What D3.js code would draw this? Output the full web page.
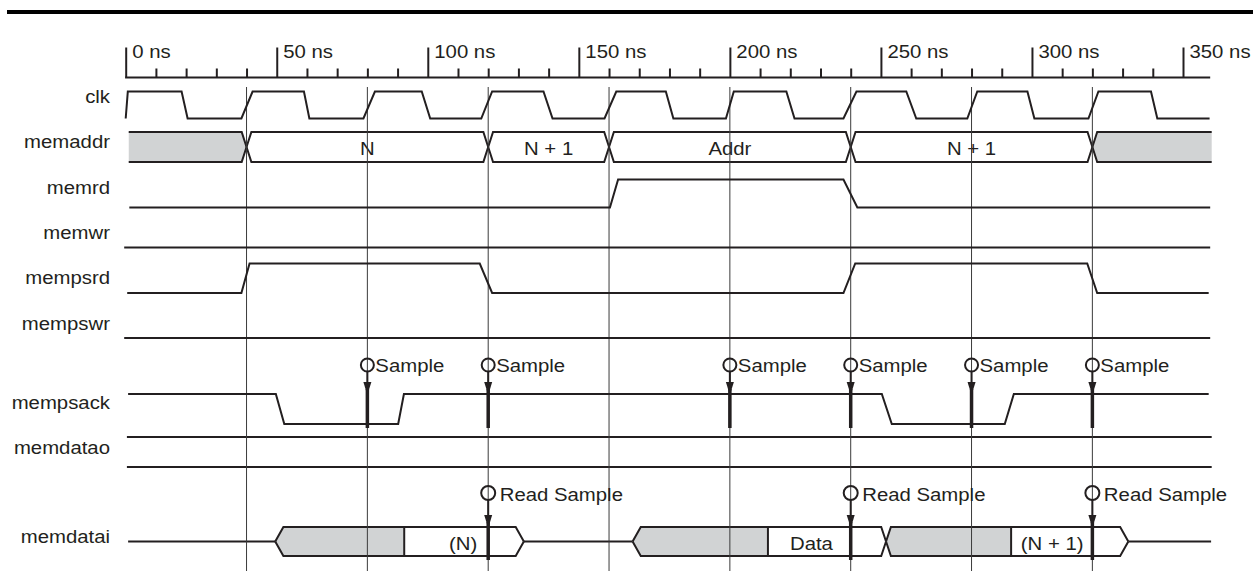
<!DOCTYPE html>
<html>
<head>
<meta charset="utf-8">
<script src="https://cdn.jsdelivr.net/npm/d3@7"></script>
<style>
body { margin: 0; background: #fff; }
text { font-family: "Liberation Sans", Arial, sans-serif; font-size: 18.5px; fill: #231f20; }
</style>
</head>
<body>
<svg id="chart"></svg>
<script>
// ---- data (times in ns) ----
var majorTicks = [0, 50, 100, 150, 200, 250, 300, 350];
var minorTicks = [10, 20, 30, 40, 60, 70, 80, 90, 110, 120, 130, 140, 160, 170, 180, 190,
                  210, 220, 230, 240, 260, 270, 280, 290, 310, 320, 330, 340];
var gridTimes = [40, 80, 120, 160, 200, 240, 280, 320];

// single-bit signals: [time, level]
var clk = [[0,0],[0.7,1],[18.5,1],[20.5,0],[38.3,0],[42,1],[59,1],[60.8,0],[78.7,0],[82.5,1],
           [98,1],[100.8,0],[117.7,0],[121.3,1],[138.3,1],[141.3,0],[158.5,0],[162.4,1],
           [178.8,1],[181.3,0],[198.7,0],[201.3,1],[218.7,1],[221.4,0],[237.6,0],[241.9,1],
           [258.4,1],[261.7,0],[278.6,0],[281.9,1],[298.5,1],[300.8,0],[318.7,0],[322,1],
           [339.4,1],[341.5,0],[358.8,0]];
var memrd = [[1.2,0],[160.3,0],[163,1],[237.6,1],[242.2,0],[359,0]];
var memwr = [[-0.5,0],[359,0]];
var mempsrd = [[0.5,0],[38.3,0],[41,1],[117.2,1],[121.3,0],[237.6,0],[241.5,1],[318.3,1],[321.6,0],[358.5,0]];
var mempswr = [[-0.5,0],[359,0]];
var mempsack = [[0.8,1],[49.7,1],[52.5,0],[90.2,0],[92.1,1],[250.3,1],[253.6,0],[291,0],[294,1],[358.5,1]];

// buses: [start, end, label]  (null label = unknown)
var memaddr = [[1, 40, null], [40, 120, "N"], [120, 160, "N + 1"], [160, 240, "Addr"],
               [240, 320, "N + 1"], [320, 359.5, null]];
var memdatao = [[0.4, 359.5, ""]];
// memdatai: [start, validFrom, end, label, labelAt]; Z elsewhere
var memdatai = [[49.5, 92.2, 131.8, "(N)", 111.7],
                [167.8, 212.6, 251.7, "Data", 227],
                [251.7, 293.1, 331.9, "(N + 1)", 306.7]];
var memdataiSpan = [0.8, 359.3];

var sampleTimes = [80, 120, 200, 240, 280, 320];
var readSampleTimes = [120, 240, 320];

var signalNames = ["clk", "memaddr", "memrd", "memwr", "mempsrd", "mempswr", "mempsack", "memdatao", "memdatai"];

// ---- layout ----
var W = 1253, H = 571;
var ink = "#231f20", grey = "#d1d3d4";
var rows = {
  clk:      {hi: 91.5, lo: 118.5, text: 103},
  memaddr:  {hi: 132,  lo: 162,   text: 148},
  memrd:    {hi: 179.5,lo: 207.5, text: 194},
  memwr:    {hi: 219,  lo: 247.5, text: 239},
  mempsrd:  {hi: 263.5,lo: 293,   text: 284},
  mempswr:  {hi: 309,  lo: 338,   text: 330},
  mempsack: {hi: 394,  lo: 424,   text: 409},
  memdatao: {hi: 437,  lo: 467,   text: 454},
  memdatai: {hi: 527,  lo: 556,   text: 543}
};
var rulerY = 77.5;
var busHalf = 1.6, zHalf = 2.7;

var x = d3.scaleLinear().domain([0, 350]).range([125.7, 1183]);
function yOf(name) { return d3.scaleLinear().domain([0, 1]).range([rows[name].lo, rows[name].hi]); }

var svg = d3.select("#chart").attr("width", W).attr("height", H);

function addText(parent, px, py, str, anchor) {
  parent.append("g")
    .attr("transform", "translate(" + px + "," + py + ") scale(1.1,1)")
    .append("text")
    .attr("text-anchor", anchor || "start")
    .text(str);
}

// top rule
svg.append("line").attr("x1", 7).attr("x2", W).attr("y1", 12).attr("y2", 12)
  .attr("stroke", "#000").attr("stroke-width", 4);

// ruler
var ruler = svg.append("g").attr("transform", "translate(0," + rulerY + ")");
ruler.append("line").attr("x1", x(-0.2)).attr("x2", x(359)).attr("stroke", ink).attr("stroke-width", 2);
var minorAxis = ruler.append("g").call(d3.axisTop(x).tickValues(minorTicks).tickSize(9).tickFormat(""));
var majorAxis = ruler.append("g").call(d3.axisTop(x).tickValues(majorTicks).tickSize(30).tickFormat(function (d) { return d + " ns"; }));
ruler.selectAll(".domain").remove();
ruler.selectAll(".tick line").attr("stroke", ink).attr("stroke-width", 2);
majorAxis.selectAll(".tick text").remove();
majorAxis.selectAll(".tick").each(function (d) {
  addText(d3.select(this), 6, -19.5, d + " ns", "start");
});

// bus fills
var gFill = svg.append("g");
var gWave = svg.append("g");
var lineGen = d3.line();

function busShape(name, t0, t1, leftSlope, rightSlope) {
  var y = yOf(name), top = y(1), bot = y(0), mid = (top + bot) / 2;
  var tp = [], bt = [];
  if (leftSlope) { tp.push([x(t0), mid], [x(t0 + leftSlope), top]); bt.push([x(t0), mid], [x(t0 + leftSlope), bot]); }
  else { tp.push([x(t0), top]); bt.push([x(t0), bot]); }
  if (rightSlope) { tp.push([x(t1 - rightSlope), top], [x(t1), mid]); bt.push([x(t1 - rightSlope), bot], [x(t1), mid]); }
  else { tp.push([x(t1), top]); bt.push([x(t1), bot]); }
  return {top: tp, bot: bt, poly: tp.concat(bt.slice().reverse())};
}

// memaddr
memaddr.forEach(function (s, i) {
  var l = i > 0 ? busHalf : 0, r = i < memaddr.length - 1 ? busHalf : 0;
  var sh = busShape("memaddr", s[0], s[1], l, r);
  gFill.append("path").attr("d", lineGen(sh.poly) + "Z").attr("fill", s[2] === null ? grey : "#fff");
  gWave.append("path").attr("d", lineGen(sh.top)).attr("fill", "none").attr("stroke", ink).attr("stroke-width", 2);
  gWave.append("path").attr("d", lineGen(sh.bot)).attr("fill", "none").attr("stroke", ink).attr("stroke-width", 2);
  if (s[2]) addText(gWave, x((s[0] + s[1]) / 2), rows.memaddr.text + 6.5, s[2], "middle");
});

// memdatao (no transitions)
memdatao.forEach(function (s) {
  var sh = busShape("memdatao", s[0], s[1], 0, 0);
  gWave.append("path").attr("d", lineGen(sh.top)).attr("fill", "none").attr("stroke", ink).attr("stroke-width", 2);
  gWave.append("path").attr("d", lineGen(sh.bot)).attr("fill", "none").attr("stroke", ink).attr("stroke-width", 2);
});

// memdatai: Z line between segments, each segment grey until valid
(function () {
  var y = yOf("memdatai"), mid = (y(0) + y(1)) / 2;
  var zStart = memdataiSpan[0];
  memdatai.forEach(function (s, i) {
    var prev = memdatai[i - 1], next = memdatai[i + 1];
    var fromZ = !(prev && prev[2] === s[0]);
    var toZ = !(next && next[0] === s[2]);
    if (fromZ) {
      gWave.append("path").attr("d", lineGen([[x(zStart), mid], [x(s[0]), mid]]))
        .attr("stroke", ink).attr("stroke-width", 2).attr("fill", "none");
    }
    var l = fromZ ? zHalf : busHalf, r = toZ ? zHalf : busHalf;
    var a = busShape("memdatai", s[0], s[1], l, 0);
    var b = busShape("memdatai", s[1], s[2], 0, r);
    gFill.append("path").attr("d", lineGen(a.poly) + "Z").attr("fill", grey);
    gFill.append("path").attr("d", lineGen(b.poly) + "Z").attr("fill", "#fff");
    var all = busShape("memdatai", s[0], s[2], l, r);
    gWave.append("path").attr("d", lineGen(all.top)).attr("fill", "none").attr("stroke", ink).attr("stroke-width", 2);
    gWave.append("path").attr("d", lineGen(all.bot)).attr("fill", "none").attr("stroke", ink).attr("stroke-width", 2);
    gWave.append("line").attr("x1", x(s[1])).attr("x2", x(s[1])).attr("y1", y(1)).attr("y2", y(0))
      .attr("stroke", ink).attr("stroke-width", 2);
    addText(gWave, x(s[4]), rows.memdatai.text + 7, s[3], "middle");
    zStart = s[2];
  });
  gWave.append("path").attr("d", lineGen([[x(zStart), mid], [x(memdataiSpan[1]), mid]]))
    .attr("stroke", ink).attr("stroke-width", 2).attr("fill", "none");
})();

// grid lines at clock edges
svg.append("g").selectAll("line").data(gridTimes).join("line")
  .attr("x1", function (d) { return x(d); }).attr("x2", function (d) { return x(d); })
  .attr("y1", 87).attr("y2", H)
  .attr("stroke", "#3a3a3a").attr("stroke-width", 1);

// single-bit waveforms
[["clk", clk], ["memrd", memrd], ["memwr", memwr], ["mempsrd", mempsrd], ["mempswr", mempswr], ["mempsack", mempsack]]
  .forEach(function (p) {
    var y = yOf(p[0]);
    svg.append("path")
      .attr("d", d3.line().x(function (d) { return x(d[0]); }).y(function (d) { return y(d[1]); })(p[1]))
      .attr("fill", "none").attr("stroke", ink).attr("stroke-width", 2).attr("stroke-linejoin", "miter");
  });

// signal names
var gNames = svg.append("g");
signalNames.forEach(function (n) { addText(gNames, 110, rows[n].text, n, "end"); });

// sample markers
function marker(times, cy, r, tipY, bottom, label, dx, baseline) {
  var g = svg.append("g");
  times.forEach(function (t) {
    var cx = x(t);
    g.append("circle").attr("cx", cx).attr("cy", cy).attr("r", r)
      .attr("fill", "none").attr("stroke", ink).attr("stroke-width", 2);
    g.append("line").attr("x1", cx).attr("x2", cx).attr("y1", cy + r).attr("y2", bottom)
      .attr("stroke", ink).attr("stroke-width", 2);
    g.append("line").attr("x1", cx).attr("x2", cx).attr("y1", tipY - 6).attr("y2", bottom)
      .attr("stroke", ink).attr("stroke-width", 3.5);
    g.append("path").attr("d", "M" + (cx - 4) + "," + (tipY - 13) + "L" + (cx + 4) + "," + (tipY - 13) + "L" + cx + "," + tipY + "Z")
      .attr("fill", ink);
    addText(g, cx + dx, baseline, label, "start");
  });
}
marker(sampleTimes, 365, 6.5, rows.mempsack.hi + 1, 428, "Sample", 8, 372);
marker(readSampleTimes, 493, 7, rows.memdatai.hi + 1, 560, "Read Sample", 11.5, 501);
</script>
</body>
</html>
